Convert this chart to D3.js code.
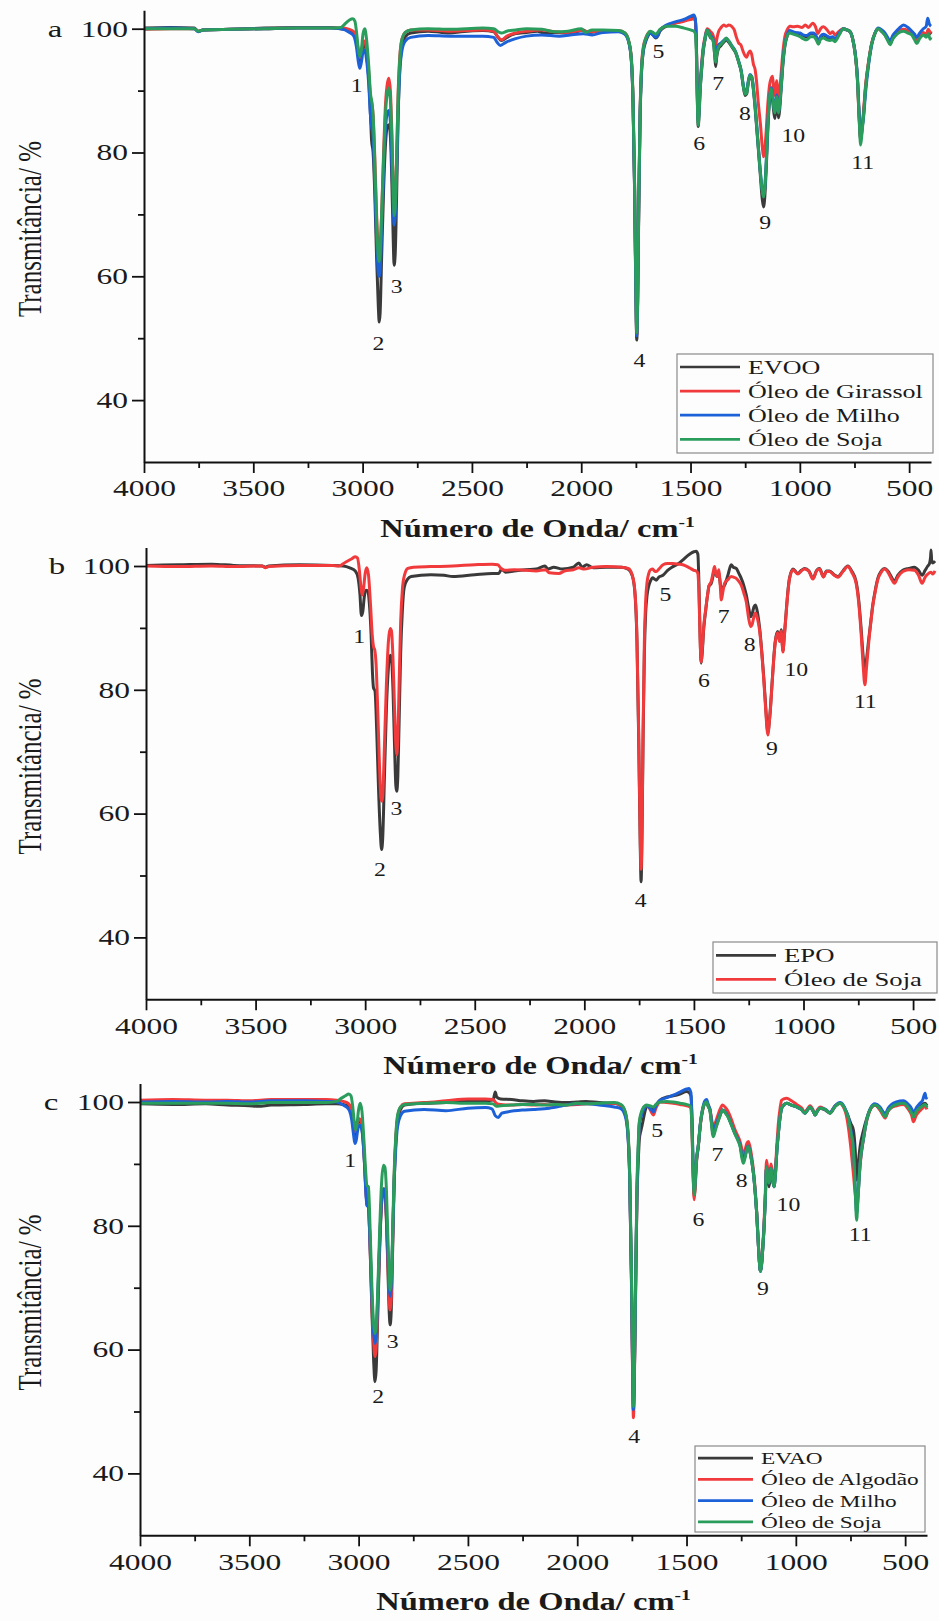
<!DOCTYPE html>
<html>
<head>
<meta charset="utf-8">
<script src="https://cdn.jsdelivr.net/npm/d3@7"></script>
<style>
  body { margin: 0; background: #fdfdfd; }
  svg { display: block; font-family: "Liberation Serif", "Times New Roman", serif; }
</style>
</head>
<body>
<svg id="chart" width="939" height="1621"></svg>
<script>
// ---- tick values ----
const xTicks = [4000, 3500, 3000, 2500, 2000, 1500, 1000, 500];
const xMinor = [3750, 3250, 2750, 2250, 1750, 1250, 750];
const yTicks = [40, 60, 80, 100];
const yMinor = [50, 70, 90];
const peakNames = ["1", "2", "3", "4", "5", "6", "7", "8", "9", "10", "11"];

// ---- panel a: [wavenumber, transmittance] ----
const evooA = [[4000,100.1],[3880,100.2],[3770,100.1],[3752,99.6],[3730,99.8],[3600,99.9],[3450,100.1],[3300,100.2],[3150,100.2],[3100,100],[3060,99.7],[3040,99.2],[3028,97.8],[3020,95.8],[3013,94.5],[3006,95.6],[2998,97.2],[2990,97.4],[2982,95.8],[2972,92],[2964,86],[2959,82],[2952,80],[2944,73],[2936,63],[2928,55],[2924,52.6],[2920,54],[2913,63],[2904,74],[2895,81.5],[2886,84.3],[2879,84.5],[2872,82],[2866,75],[2860,66],[2856,61.8],[2851,63.5],[2845,72],[2838,85],[2830,93.5],[2820,97],[2805,98.7],[2780,99.3],[2700,99.6],[2640,99.4],[2600,99.3],[2550,99.5],[2450,99.7],[2400,99.5],[2380,98.6],[2365,98.1],[2340,98.6],[2300,99.2],[2250,99.4],[2200,99.6],[2170,99.3],[2120,99.4],[2060,99.3],[2020,99.5],[1990,99.8],[1970,99.3],[1930,99.6],[1880,99.7],[1830,99.6],[1800,99.2],[1785,98.2],[1772,95.5],[1763,88],[1756,74],[1750,57],[1746,49.7],[1742,55],[1737,70],[1731,85],[1724,93],[1716,96.3],[1706,97.8],[1695,98.8],[1685,99.3],[1672,99],[1660,98.5],[1650,98.8],[1640,99.6],[1610,100.4],[1570,100.9],[1530,101.3],[1500,101.8],[1485,102],[1478,101.4],[1473,97],[1469,89],[1465,84.2],[1461,86],[1456,90],[1450,93],[1442,96.3],[1432,98.5],[1424,99.7],[1416,99.2],[1408,98.5],[1400,98.4],[1394,97.5],[1389,95.5],[1385,93.9],[1380,95.5],[1372,96.8],[1360,97.3],[1348,97.8],[1337,98.2],[1325,97.8],[1310,97],[1295,96.2],[1280,94.6],[1268,93],[1258,90.5],[1250,89.2],[1243,89.5],[1236,91.2],[1228,92.3],[1220,92],[1212,90],[1203,86.5],[1193,82],[1182,77],[1172,72.5],[1166,71.2],[1160,73],[1153,78],[1146,84],[1138,88.5],[1131,89.8],[1125,88.5],[1119,86.5],[1114,85.5],[1109,87.5],[1105,88.5],[1101,86.8],[1097,85.6],[1092,87],[1085,90.5],[1078,94],[1068,97.3],[1058,98.8],[1045,99.6],[1037,99.5],[1020,99.3],[999,99.2],[985,98.9],[969,98.7],[950,99.2],[938,99.2],[925,98.6],[915,97.6],[905,98.6],[892,99],[875,98.6],[862,98.4],[850,98.5],[839,98.2],[820,99.2],[801,100],[785,99.8],[770,99.5],[758,98.3],[747,96],[737,92.2],[728,85.5],[722,82],[716,83.5],[709,86],[699,90.6],[686,94.4],[671,97.6],[656,99.3],[641,100],[625,99.6],[610,99],[597,98.2],[587,97.6],[575,98.5],[564,99],[545,99.6],[526,99.8],[505,99.6],[488,99.5],[475,98.8],[465,98.2],[452,98.9],[435,99.3],[422,99],[412,99.8],[404,99.2],[400,99.5]];
const girassolA = [[4000,99.9],[3880,100],[3770,100],[3752,99.6],[3730,99.8],[3600,99.9],[3450,100],[3300,100.1],[3150,100.1],[3100,100.1],[3060,99.9],[3040,99.5],[3028,98.5],[3020,96.5],[3013,95.3],[3006,96],[2998,97.8],[2990,98],[2982,96.6],[2972,93],[2964,89],[2958,88],[2952,86],[2944,79],[2936,70],[2928,64.5],[2924,64],[2920,64.8],[2913,70],[2904,80],[2895,88],[2886,91.3],[2880,92],[2873,90],[2866,83],[2860,75],[2856,71],[2851,72],[2845,78],[2838,89],[2830,95.5],[2820,98.3],[2805,99.4],[2780,99.8],[2700,99.8],[2600,99.6],[2450,99.8],[2400,99.6],[2380,98.6],[2365,98.2],[2340,98.8],[2300,99.3],[2250,99.6],[2180,99.8],[2120,99.5],[2060,99.4],[2000,99.7],[1960,99.5],[1900,99.7],[1830,99.7],[1800,99.3],[1785,98.3],[1772,95.8],[1763,88.5],[1756,75],[1750,58],[1746,50.5],[1742,56],[1737,71],[1731,86],[1724,94],[1716,97],[1706,98.4],[1695,99.2],[1685,99.5],[1672,99.2],[1660,98.9],[1650,99.2],[1640,99.8],[1610,100.5],[1570,100.9],[1530,101.2],[1500,101.5],[1485,101.6],[1478,101.2],[1473,97],[1469,90],[1465,85.5],[1461,87.5],[1456,91],[1450,94],[1442,97],[1432,99],[1424,100],[1416,99.8],[1408,99.5],[1400,99.2],[1394,98.6],[1389,97.8],[1385,97.3],[1380,98.3],[1372,99.5],[1360,100.2],[1348,100.6],[1337,100.4],[1325,100.6],[1310,100.3],[1300,99.8],[1290,98.6],[1280,97.7],[1270,97.4],[1260,96.4],[1250,95.6],[1243,95.4],[1236,96],[1228,96.4],[1220,95.8],[1212,94.2],[1205,93.5],[1198,91.5],[1190,88],[1180,84.5],[1172,81],[1166,79.3],[1160,80.5],[1153,84],[1146,88],[1138,91],[1131,92],[1125,92.3],[1119,90],[1114,89.2],[1109,91],[1105,91.6],[1101,89.5],[1097,88.3],[1092,90],[1085,93],[1078,96],[1068,98.8],[1058,99.8],[1045,100.4],[1030,100.3],[1010,100.4],[990,100.2],[975,100.6],[960,100.2],[941,100.9],[928,100.3],[918,99.2],[905,100],[892,100.3],[875,99.8],[862,99.2],[850,99.5],[839,99],[820,99.6],[801,100],[785,99.8],[770,99.5],[758,98.3],[747,96],[737,92],[728,85],[722,82.3],[716,84],[709,86.5],[699,91],[686,94.6],[671,97.7],[656,99.3],[641,100],[625,99.6],[610,99],[597,98.2],[587,97.6],[575,98.5],[564,99],[545,99.6],[526,99.9],[505,99.7],[488,99.4],[475,98.6],[465,98.1],[452,98.8],[435,99.4],[422,99],[412,99.9],[404,99.4],[400,99.6]];
const milhoA = [[4000,100],[3880,100.1],[3770,100],[3752,99.5],[3730,99.8],[3600,99.9],[3450,100],[3300,100.1],[3150,100.1],[3100,100],[3060,99.4],[3040,98.8],[3028,97],[3020,94.8],[3013,93.6],[3006,94.5],[2998,96.2],[2990,96.5],[2982,95],[2972,91],[2964,86],[2958,84],[2952,82.5],[2944,75],[2936,66],[2928,60.5],[2924,60],[2920,60.8],[2913,67],[2904,77],[2895,84],[2886,86.5],[2880,86.8],[2873,85],[2866,78],[2860,71],[2856,68.3],[2851,69.5],[2845,76],[2838,86],[2830,93],[2820,96.5],[2805,98],[2780,98.6],[2700,98.9],[2600,98.8],[2450,98.8],[2400,98.6],[2385,97.8],[2370,97.3],[2345,97.8],[2300,98.4],[2250,98.8],[2180,99],[2100,98.8],[2050,99],[1990,99.2],[1950,99],[1900,99.4],[1830,99.5],[1800,99.1],[1785,98.1],[1772,95.4],[1763,88],[1756,74.5],[1750,57.5],[1746,50.4],[1742,56],[1737,71],[1731,85.5],[1724,93.2],[1716,96.5],[1706,98],[1695,98.9],[1685,99.3],[1672,99],[1660,98.6],[1650,98.9],[1640,99.7],[1610,100.6],[1570,101.1],[1530,101.5],[1500,102],[1485,102.2],[1478,101.6],[1473,97],[1469,89.5],[1465,85],[1461,86.8],[1456,90.5],[1450,93.5],[1442,96.6],[1432,98.7],[1424,99.8],[1416,99.4],[1408,98.8],[1400,98.6],[1394,97.8],[1389,96.8],[1385,96.4],[1380,96.8],[1372,97.4],[1360,97.7],[1348,98.1],[1337,98.4],[1325,98],[1310,97.2],[1295,96.4],[1280,94.8],[1268,93.2],[1258,90.8],[1250,89.8],[1243,90],[1236,91.5],[1228,92.6],[1220,92.3],[1212,90.4],[1203,87],[1193,82.5],[1182,77.5],[1172,74],[1166,73],[1160,74.5],[1153,79],[1146,85],[1138,89],[1131,90.5],[1125,89.5],[1119,87.5],[1114,86.5],[1109,88.3],[1105,89.3],[1101,87.5],[1097,86.5],[1092,88],[1085,91],[1078,94.5],[1068,97.6],[1058,99],[1045,99.7],[1037,99.6],[1020,99.4],[999,99.3],[985,99],[969,98.9],[950,99.3],[938,99.3],[925,98.8],[915,97.9],[905,98.8],[892,99.1],[875,98.8],[862,98.6],[850,98.7],[839,98.4],[820,99.3],[801,100],[785,99.8],[770,99.5],[758,98.3],[747,96.2],[737,92.6],[728,86],[722,82.5],[716,84],[709,85.5],[699,89.8],[686,94],[671,97.4],[656,99.3],[641,100.1],[625,99.8],[610,99.3],[597,98.5],[587,98],[575,98.9],[564,99.4],[545,100.1],[526,100.6],[505,100.2],[488,99.6],[475,99.1],[465,98.6],[452,99.3],[435,100],[422,100.4],[415,101.7],[408,100.8],[400,100.4]];
const sojaA = [[4000,100],[3880,100],[3770,100],[3752,99.6],[3730,99.8],[3600,99.9],[3450,100],[3300,100.1],[3150,100.1],[3100,100.2],[3080,100.8],[3060,101.4],[3045,101.6],[3035,101.2],[3028,99.5],[3020,96.8],[3013,95.5],[3006,96.5],[2998,99.2],[2990,100],[2982,98.3],[2972,94],[2964,89.5],[2958,88.2],[2952,86],[2944,78],[2936,69],[2928,63],[2924,62.4],[2920,63.5],[2913,70],[2904,79],[2895,86.5],[2886,89.8],[2880,90.4],[2873,88.5],[2866,82],[2860,74],[2856,69.8],[2851,71],[2845,78],[2838,88.5],[2830,95],[2820,98.3],[2805,99.4],[2780,99.8],[2700,100],[2600,99.9],[2450,100.1],[2400,100],[2380,99.5],[2365,99.3],[2340,99.6],[2300,99.8],[2250,100],[2180,99.9],[2120,99.5],[2060,99.6],[2000,100],[1980,99.4],[1950,99.8],[1900,99.8],[1830,99.7],[1800,99.3],[1785,98.3],[1772,95.7],[1763,88.5],[1756,75],[1750,58.5],[1746,50.9],[1742,56.5],[1737,71.5],[1731,86],[1724,93.6],[1716,96.8],[1706,98.3],[1695,99.2],[1685,99.6],[1672,99.4],[1660,99.1],[1650,99.4],[1640,99.9],[1610,100.4],[1570,100.4],[1530,100.1],[1500,99.8],[1485,99.6],[1478,99.2],[1473,95.5],[1469,88.5],[1465,84.4],[1461,86.2],[1456,90],[1450,93.2],[1442,96.5],[1432,98.6],[1424,99.8],[1416,99.3],[1408,98.6],[1400,98.4],[1394,97.4],[1389,95.6],[1385,94.6],[1380,95.8],[1372,97],[1360,97.5],[1348,98],[1337,98.5],[1325,98],[1310,97.1],[1295,96.3],[1280,94.7],[1268,93.1],[1258,90.6],[1250,89.4],[1243,89.6],[1236,91.3],[1228,92.5],[1220,92.2],[1212,90.2],[1203,86.8],[1193,82.3],[1182,77.3],[1172,73.8],[1166,72.8],[1160,74.2],[1153,78.8],[1146,84.8],[1138,89],[1131,90.3],[1125,89.2],[1119,87.2],[1114,86.4],[1109,88],[1105,89],[1101,87.4],[1097,86.4],[1092,87.8],[1085,90.8],[1078,94.3],[1068,97.5],[1058,98.8],[1045,99.3],[1037,99.2],[1020,99],[999,98.7],[985,98.4],[969,98.2],[950,98.7],[938,98.7],[925,98.2],[915,97.5],[905,98.3],[892,98.5],[875,98.2],[862,98.1],[850,98.2],[839,97.9],[820,99],[801,100],[785,99.8],[770,99.5],[758,98.3],[747,96],[737,92],[728,85],[722,81.2],[716,83],[709,85.8],[699,90.5],[686,94.4],[671,97.6],[656,99.3],[641,100],[625,99.5],[610,98.9],[597,98],[587,97.4],[575,98.3],[564,98.8],[545,99.4],[526,99.6],[505,99.3],[488,99],[475,98.2],[465,97.6],[452,98.4],[435,99],[422,98.6],[412,99.2],[404,98.3],[400,98.6]];
const peaksA = [[3027,90.9],[2928,49.2],[2844,58.4],[1734,46.5],[1647,96.3],[1460,81.4],[1373,91.2],[1251,86.4],[1159,68.7],[1030,82.8],[712,78.4]];

// ---- panel b ----
const epoB = [[4000,100.1],[3850,100.2],[3700,100.3],[3600,100.1],[3470,100],[3455,99.8],[3440,100],[3300,100.2],[3150,100.1],[3100,100],[3070,99.7],[3045,99.2],[3032,98],[3024,95.5],[3017,92],[3011,92.6],[3004,95],[2996,96.1],[2989,96],[2981,94],[2973,89],[2967,83],[2962,80.3],[2955,79.8],[2947,73],[2939,64],[2931,57],[2925,54.2],[2920,56],[2912,66],[2903,77],[2894,83.5],[2886,85.6],[2880,85.2],[2873,80],[2866,71],[2860,64.5],[2856,63.6],[2851,66],[2845,75],[2838,86],[2830,93],[2822,96.5],[2808,97.8],[2790,98.3],[2700,98.6],[2640,98.5],[2600,98.3],[2500,98.6],[2420,98.8],[2390,98.8],[2378,99.5],[2360,99],[2320,99.2],[2268,99.4],[2220,99.5],[2180,100],[2165,99.5],[2140,99.8],[2100,99.5],[2050,99.8],[2025,100.5],[2010,99.8],[1990,100.2],[1960,99.7],[1900,99.8],[1830,99.8],[1800,99.5],[1782,98.5],[1770,96],[1760,88],[1752,72],[1745,55],[1741,49],[1737,56],[1732,72],[1726,86],[1720,92.5],[1714,95.2],[1706,96.8],[1698,97.6],[1688,98.1],[1680,97.9],[1672,97.7],[1660,98.2],[1641,98.5],[1620,99.3],[1596,99.9],[1570,100.4],[1550,101],[1520,101.9],[1500,102.3],[1490,102.4],[1482,101.9],[1477,97],[1472,89],[1467,84.3],[1462,86],[1455,90],[1447,92.6],[1437,95.5],[1431,96.8],[1421,97.2],[1412,98.5],[1406,99.4],[1400,98.8],[1395,98.3],[1386,98.8],[1381,97.5],[1375,96.1],[1368,96.5],[1360,96.9],[1345,98.5],[1330,100.2],[1320,99.8],[1307,99.6],[1295,98.8],[1284,98],[1272,96.8],[1261,95.3],[1250,93.2],[1241,91.8],[1234,92.3],[1226,93.4],[1219,93.7],[1210,92.5],[1200,89.9],[1190,86],[1181,81.9],[1172,77],[1166,74],[1162,73],[1157,74.5],[1150,77.5],[1144,80.8],[1136,85],[1129,87.8],[1118,89.4],[1109,88],[1102,89.7],[1097,87.5],[1094,86.3],[1087,89],[1079,92.6],[1071,96],[1064,98],[1048,99.5],[1026,98.8],[1010,99.3],[995,99.6],[975,99.2],[957,98],[940,99.3],[927,99.6],[909,98.3],[895,99.2],[881,99.2],[860,98.6],[843,98.3],[820,99.2],[798,100],[780,99.2],[760,97.5],[748,94.5],[737,89.9],[728,85.5],[720,82.9],[712,85],[702,88.3],[693,91],[684,93.7],[672,96.2],[661,98],[645,99.2],[630,99.6],[615,99.2],[600,98.3],[585,97.5],[570,98.5],[547,99.3],[520,99.6],[494,99.8],[475,99.3],[459,98.5],[445,99.3],[433,100],[425,100.4],[420,101.5],[418,102.6],[415,100.8],[410,100.5],[400,100.8]];
const sojaB = [[4000,100],[3850,99.9],[3700,100],[3600,99.9],[3470,100],[3455,99.7],[3440,99.9],[3300,100.1],[3150,100.1],[3120,100],[3090,100.6],[3060,101.2],[3045,101.5],[3035,101.3],[3027,99.5],[3020,96.8],[3014,95.3],[3008,96.2],[3000,98.8],[2993,99.7],[2985,98.6],[2976,94],[2968,89],[2962,87],[2956,86.4],[2950,84],[2942,76],[2934,67],[2928,62.5],[2924,62],[2920,62.8],[2912,71],[2903,81],[2894,87.8],[2886,89.9],[2880,89.5],[2873,85],[2866,77],[2860,71],[2856,69.5],[2851,72],[2845,81],[2838,91],[2830,96.3],[2820,98.6],[2805,99.6],[2780,99.8],[2700,99.9],[2600,100],[2500,100.2],[2420,100.3],[2395,100.2],[2380,99.6],[2360,99.3],[2320,99.4],[2268,99.3],[2220,99.2],[2177,99.4],[2160,98.9],[2116,98.8],[2090,99.2],[2050,99.4],[2025,99.7],[2000,99.5],[1960,99.8],[1900,99.9],[1830,99.8],[1800,99.6],[1782,98.6],[1770,96.2],[1760,88.5],[1752,73],[1745,56],[1741,51],[1737,57],[1732,73],[1726,88],[1720,94.5],[1714,97.3],[1706,98.8],[1698,99.4],[1688,99.5],[1680,99.2],[1672,99.1],[1660,99.5],[1641,100.2],[1620,100.4],[1596,100.4],[1570,100.3],[1550,100.2],[1520,99.7],[1500,99.3],[1490,99.2],[1482,98.8],[1477,95.5],[1472,88.5],[1467,84.5],[1462,86.5],[1455,90.3],[1447,92.8],[1437,95.5],[1431,96.8],[1421,97.5],[1412,99],[1406,99.9],[1400,98.8],[1395,98.3],[1386,99.4],[1381,97.5],[1375,94.5],[1368,95.8],[1360,97.2],[1345,97.8],[1330,98.3],[1320,98.2],[1307,98],[1295,97.5],[1284,96.9],[1272,95.6],[1261,94.2],[1250,91.5],[1241,90.2],[1234,90.6],[1226,91.8],[1219,92.4],[1210,91.5],[1200,89.5],[1190,85.8],[1181,81.5],[1172,76.5],[1166,73.5],[1162,72.7],[1157,74.3],[1150,77.3],[1144,80.6],[1136,84.8],[1129,87.6],[1118,89.2],[1109,87.8],[1102,89.5],[1097,87.3],[1094,86.1],[1087,88.8],[1079,92.4],[1071,95.8],[1064,97.9],[1048,99.4],[1026,98.7],[1010,99.2],[995,99.5],[975,99.1],[957,97.9],[940,99.2],[927,99.5],[909,98.2],[895,99.1],[881,99.1],[860,98.5],[843,98.2],[820,99.1],[798,99.9],[780,99],[760,97.2],[748,94],[737,89],[728,84],[720,80.8],[712,83.8],[702,87.8],[693,90.8],[684,93.5],[672,96],[661,97.8],[645,99],[630,99.5],[615,99],[600,98],[585,97.2],[570,98.2],[547,99.1],[520,99.4],[494,99.3],[475,98.5],[459,97.2],[445,98.2],[433,98.7],[418,99],[410,98.7],[400,99.2]];
const peaksB = [[3027,88.7],[2933,51.0],[2857,60.8],[1743,46.0],[1630,95.5],[1454,81.6],[1364,91.9],[1246,87.4],[1144,70.5],[1033,83.3],[718,78.2]];

// ---- panel c ----
const evaoC = [[4000,99.7],[3850,99.6],[3700,99.7],[3600,99.5],[3500,99.4],[3460,99.3],[3400,99.5],[3250,99.6],[3150,99.7],[3100,99.7],[3070,99.6],[3045,99.2],[3032,98],[3024,96],[3017,94.5],[3011,95.2],[3004,96.6],[2996,97.1],[2989,96.6],[2981,94.5],[2973,90],[2967,86],[2962,83.5],[2955,83],[2947,76],[2939,66],[2931,58],[2925,54.8],[2920,56.5],[2912,66],[2903,77],[2894,84],[2886,85.8],[2880,85.5],[2873,81],[2866,73],[2860,66],[2856,64],[2851,66],[2845,75],[2838,86],[2830,93.5],[2822,97],[2808,98.8],[2790,99.5],[2700,99.8],[2600,99.9],[2500,100.2],[2420,100.2],[2385,100.3],[2375,101.6],[2368,100.8],[2350,100.5],[2300,100.4],[2250,100.2],[2200,100.1],[2150,100.2],[2100,100],[2050,99.9],[2000,100],[1960,100.1],[1900,99.9],[1830,99.8],[1800,99.4],[1782,98.4],[1770,95.8],[1760,88],[1752,72],[1746,55],[1743,50.2],[1739,55],[1733,70],[1727,84],[1720,91],[1716,93.9],[1708,95.5],[1701,96.6],[1690,98.5],[1682,99.3],[1670,99.3],[1660,99],[1652,98.8],[1640,99.5],[1621,100.3],[1590,100.8],[1561,101],[1530,101.3],[1500,101.7],[1490,101.6],[1480,101],[1475,97],[1470,89],[1465,84.7],[1461,86],[1455,90],[1446,92.8],[1436,96.5],[1426,98.7],[1416,99.8],[1408,100],[1400,99.2],[1393,98.7],[1386,96.8],[1381,95.2],[1377,94.7],[1370,95.5],[1359,96.6],[1347,97.8],[1335,98.7],[1322,98.3],[1309,97.6],[1295,96.4],[1278,94.9],[1265,94],[1255,93.1],[1247,91.6],[1240,90.4],[1232,91.3],[1224,92.5],[1217,92.8],[1207,91.5],[1194,88.5],[1185,85],[1179,82],[1170,76],[1164,73],[1161,72.6],[1156,74],[1150,77],[1146,79.3],[1140,84],[1134,89.5],[1128,88],[1123,86.3],[1118,87.5],[1114,89.2],[1108,88],[1100,86.3],[1094,88],[1086,92.5],[1080,94.9],[1072,97.5],[1065,99],[1055,99.5],[1042,99.8],[1020,99.5],[996,99.2],[975,98.8],[958,98.2],[945,98.8],[935,99.2],[922,98.6],[912,97.9],[900,98.6],[889,99],[865,98.7],[844,98.2],[820,99.3],[798,99.8],[780,99.2],[770,98.5],[760,97.6],[748,96.5],[737,95.5],[728,92],[722,87.4],[716,89.5],[706,92.8],[690,95.5],[676,97.3],[660,98.8],[638,99.5],[615,98.8],[600,98],[592,97.6],[578,98.6],[562,99.2],[540,99.5],[508,99.8],[485,99.2],[470,98.4],[462,97.8],[450,98.5],[432,99.2],[420,99.6],[409,99.8],[400,99.4]];
const algodaoC = [[4000,100.3],[3850,100.4],[3700,100.3],[3600,100.3],[3500,100.2],[3400,100.4],[3250,100.4],[3150,100.4],[3100,100.3],[3070,100.1],[3045,99.7],[3032,98.6],[3024,96.5],[3017,95.2],[3011,95.8],[3004,96.8],[2996,97.3],[2989,97],[2981,95],[2973,90.5],[2967,86],[2962,83.8],[2955,83.3],[2947,76],[2939,67],[2931,61],[2925,58.9],[2920,60],[2912,68],[2903,78],[2894,84.5],[2886,86],[2880,85.8],[2873,81.5],[2866,74],[2860,68],[2856,66.4],[2851,68],[2845,76.5],[2838,87],[2830,94],[2822,97.5],[2808,99.2],[2790,99.7],[2700,99.9],[2600,100.2],[2500,100.5],[2420,100.5],[2385,100.4],[2370,99.8],[2350,99.6],[2300,99.5],[2250,99.6],[2200,99.5],[2150,99.6],[2100,99.4],[2050,99.5],[2000,99.6],[1960,99.7],[1900,99.7],[1830,99.8],[1800,99.5],[1782,98.5],[1770,96],[1760,88],[1752,71],[1746,54],[1743,49],[1739,54],[1733,69],[1727,84.5],[1720,93],[1716,96.5],[1708,97.9],[1701,98.7],[1690,99.3],[1682,99.4],[1670,99],[1660,98.3],[1652,97.9],[1640,99],[1621,100],[1590,99.9],[1561,99.8],[1530,99.6],[1500,99.4],[1490,99.3],[1480,99],[1475,95.5],[1470,88.5],[1465,84.2],[1461,86],[1455,90.2],[1446,93],[1436,96.6],[1426,98.8],[1416,99.8],[1408,100],[1400,99.4],[1393,98.8],[1386,97.4],[1381,96.3],[1377,96],[1370,96.5],[1359,97.6],[1347,98.8],[1335,99.5],[1322,99.1],[1309,98.4],[1295,97.2],[1278,95.5],[1265,94.5],[1255,93.6],[1247,92.4],[1240,91.4],[1232,92.3],[1224,93.3],[1217,93.6],[1207,92.3],[1194,89],[1185,85.5],[1179,82.3],[1170,76.2],[1164,73.2],[1161,72.8],[1156,74.2],[1150,77.5],[1146,80],[1140,85],[1134,90.6],[1128,89],[1123,87.2],[1118,88.5],[1114,90],[1108,89],[1100,87.4],[1094,89],[1086,93.5],[1080,96.5],[1072,99],[1065,100.3],[1055,100.5],[1042,100.6],[1020,100.2],[996,99.6],[975,99.1],[958,98.4],[945,99],[935,99.4],[922,98.8],[912,98],[900,98.8],[889,99.2],[865,98.8],[844,98.3],[820,99.4],[798,99.8],[780,99],[770,98],[760,96],[748,92.5],[737,88.5],[728,85],[722,83.1],[716,85],[706,89.8],[690,94.2],[676,96.9],[660,98.7],[638,99.5],[615,98.7],[600,97.8],[592,97.4],[578,98.5],[562,99.1],[540,99.4],[508,99.6],[485,98.8],[470,97.8],[462,96.8],[450,97.8],[432,98.6],[420,99],[409,99.3],[400,98.8]];
const milhoC = [[4000,100],[3850,100.1],[3700,100],[3600,100.1],[3500,100],[3400,100.2],[3250,100.2],[3150,100.1],[3100,100],[3070,99.5],[3045,98.8],[3032,97.2],[3024,95],[3017,93.3],[3011,93.8],[3004,95.5],[2996,96.3],[2989,96],[2981,94.3],[2973,90],[2967,85.5],[2962,83.3],[2955,83],[2947,76.5],[2939,68],[2931,62.5],[2925,61],[2920,62],[2912,69],[2903,78],[2894,84.5],[2886,86],[2880,85.8],[2873,82],[2866,75.5],[2860,70],[2856,68.6],[2851,70],[2845,77],[2838,86.5],[2830,92.5],[2822,96],[2808,97.8],[2790,98.5],[2700,98.8],[2600,98.6],[2500,99],[2420,99.1],[2390,98.9],[2375,97.8],[2361,97.5],[2345,98.2],[2320,98.4],[2250,98.7],[2200,98.8],[2128,99],[2080,99.3],[2040,99.6],[2000,99.7],[1950,99.7],[1900,99.5],[1830,99.2],[1800,98.9],[1782,97.9],[1770,95.4],[1760,87.5],[1752,71.5],[1746,55],[1743,50.3],[1739,55],[1733,70],[1727,85],[1720,93],[1716,96.2],[1708,97.6],[1701,98.4],[1690,99.2],[1682,99.4],[1670,99.1],[1660,98.7],[1652,98.4],[1640,99.4],[1621,100.3],[1590,100.7],[1561,101.1],[1530,101.6],[1500,102.1],[1490,102.2],[1480,101.5],[1475,97.5],[1470,90],[1465,85.5],[1461,87],[1455,90.5],[1446,93],[1436,96.8],[1426,99],[1416,100.2],[1408,100.4],[1400,99.5],[1393,98.9],[1386,97],[1381,95.8],[1377,95.5],[1370,96],[1359,96.9],[1347,98],[1335,98.7],[1322,98.3],[1309,97.6],[1295,96.4],[1278,94.9],[1265,94],[1255,93],[1247,91.5],[1240,90.6],[1232,91.4],[1224,92.6],[1217,92.9],[1207,91.6],[1194,88.5],[1185,85],[1179,82],[1170,76],[1164,73],[1161,72.6],[1156,74],[1150,77],[1146,79.3],[1140,84],[1134,89.5],[1128,88.2],[1123,86.9],[1118,87.8],[1114,89.3],[1108,88],[1100,86.3],[1094,88],[1086,92.5],[1080,94.9],[1072,97.6],[1065,99],[1055,99.5],[1042,99.8],[1020,99.5],[996,99.2],[975,98.8],[958,98.2],[945,98.8],[935,99.2],[922,98.6],[912,97.9],[900,98.6],[889,99],[865,98.8],[844,98.3],[820,99.4],[798,99.9],[780,99.3],[770,98.5],[760,97.6],[748,95.4],[737,92.8],[728,86],[722,82],[716,84.5],[706,90.1],[690,94.2],[676,97.1],[660,98.9],[638,99.7],[615,99.2],[600,98.4],[592,98],[578,99],[562,99.6],[540,100],[508,100.2],[485,99.6],[470,98.9],[462,98.2],[450,99],[432,99.8],[420,100.3],[409,101.4],[404,100.6],[400,100.8]];
const sojaC = [[4000,99.8],[3850,99.8],[3700,99.8],[3600,99.8],[3500,99.7],[3400,99.9],[3250,99.9],[3150,99.9],[3100,100.1],[3080,100.6],[3060,101],[3045,101.3],[3035,101],[3027,99.3],[3020,96.8],[3014,95.5],[3008,96.3],[3000,98.8],[2993,99.8],[2985,98.6],[2976,94],[2968,89],[2962,86.5],[2955,86.3],[2947,79],[2939,70],[2931,64],[2925,62.6],[2920,63.5],[2912,70],[2903,80],[2894,87.5],[2886,89.8],[2880,89.5],[2873,86],[2866,78],[2860,72],[2856,69.6],[2851,71],[2845,78],[2838,88],[2830,94.5],[2822,97.8],[2808,99.2],[2790,99.6],[2700,99.8],[2600,99.9],[2500,99.8],[2420,99.8],[2385,99.7],[2370,99.3],[2350,99.4],[2300,99.5],[2250,99.6],[2200,99.6],[2150,99.5],[2100,99.6],[2050,99.5],[2000,99.8],[1960,99.7],[1900,99.8],[1830,99.9],[1800,99.6],[1782,98.6],[1770,96.2],[1760,88.5],[1752,73],[1746,57],[1743,50.8],[1739,56],[1733,71],[1727,86],[1720,94],[1716,96.8],[1708,98.2],[1701,98.9],[1690,99.4],[1682,99.5],[1670,99.4],[1660,99.3],[1652,99.2],[1640,99.6],[1621,100],[1590,100.1],[1561,100],[1530,99.8],[1500,99.6],[1490,99.5],[1480,99.2],[1475,95.5],[1470,89],[1465,85],[1461,86.5],[1455,90.5],[1446,93],[1436,96.7],[1426,98.9],[1416,99.8],[1408,100],[1400,99.2],[1393,98.6],[1386,96.5],[1381,94.8],[1377,94.4],[1370,95.2],[1359,96.5],[1347,97.8],[1335,98.7],[1322,98.2],[1309,97.5],[1295,96.3],[1278,94.8],[1265,93.8],[1255,92.8],[1247,91],[1240,90.1],[1232,91],[1224,92.3],[1217,92.8],[1207,91.4],[1194,88.5],[1185,85],[1179,82],[1170,76],[1164,73],[1161,72.6],[1156,74],[1150,77],[1146,79.3],[1140,84],[1134,89.5],[1128,88.2],[1123,86.9],[1118,87.8],[1114,89.3],[1108,88],[1100,86.3],[1094,88],[1086,92.5],[1080,94.9],[1072,97.6],[1065,99],[1055,99.5],[1042,99.8],[1020,99.5],[996,99.2],[975,98.8],[958,98.2],[945,98.8],[935,99.2],[922,98.6],[912,97.9],[900,98.6],[889,99],[865,98.8],[844,98.2],[820,99.3],[798,99.8],[780,99.2],[770,98.4],[760,97.4],[748,95],[737,92.5],[728,85.5],[722,80.9],[716,84],[706,90.1],[690,94.2],[676,97.1],[660,98.8],[638,99.5],[615,98.9],[600,98],[592,97.6],[578,98.6],[562,99.2],[540,99.6],[508,99.8],[485,99.1],[470,98.2],[462,97.6],[450,98.4],[432,99.1],[420,99.4],[409,99.6],[400,99.1]];
const peaksC = [[3039,90.6],[2910,52.5],[2844,61.4],[1740,46.0],[1634,95.4],[1446,81.1],[1359,91.5],[1248,87.4],[1151,69.9],[1034,83.5],[706,78.6]];

const colors = { black: "#3a3a3a", red: "#f03a3c", blue: "#1d61d8", green: "#2a9d5c" };
const SX = 1.37;        // the figure is stretched horizontally
const UNIT = 6.19;      // px per % transmittance

const panels = [
  { letter: "a", x0: 144, x1: 931, y100: 28.7, peaks: peaksA,
    series: [["EVOO", evooA, "black"], ["Óleo de Girassol", girassolA, "red"], ["Óleo de Milho", milhoA, "blue"], ["Óleo de Soja", sojaA, "green"]],
    legend: { x: 677, y: 354, w: 256, h: 99, first: 13, row: 24.1, line: 60, fs: 19 } },
  { letter: "b", x0: 146, x1: 935, y100: 566, peaks: peaksB,
    series: [["EPO", epoB, "black"], ["Óleo de Soja", sojaB, "red"]],
    legend: { x: 713, y: 942, w: 224, h: 51, first: 13.4, row: 24, line: 60, fs: 19.5 } },
  { letter: "c", x0: 140, x1: 927, y100: 1102, peaks: peaksC,
    series: [["EVAO", evaoC, "black"], ["Óleo de Algodão", algodaoC, "red"], ["Óleo de Milho", milhoC, "blue"], ["Óleo de Soja", sojaC, "green"]],
    legend: { x: 695, y: 1446, w: 230, h: 86, first: 12.2, row: 21.2, line: 55, fs: 17 } }
];

const svg = d3.select("#chart");
svg.append("rect").attr("width", 939).attr("height", 1621).attr("fill", "#fdfdfd");

function drawPanel(p) {
  const yBottom = p.y100 + 70 * UNIT;
  const yTop = p.y100 - 3 * UNIT;
  const x = d3.scaleLinear().domain([4000, 400]).range([p.x0, p.x1]);
  const y = d3.scaleLinear().domain([30, 103]).range([yBottom, yTop]);
  const g = svg.append("g");

  // spectra
  const line = d3.line().x(d => x(d[0])).y(d => y(d[1])).curve(d3.curveMonotoneX);
  g.selectAll("path.spec").data(p.series).enter().append("path")
    .attr("class", "spec")
    .attr("d", d => line(d[1]))
    .attr("fill", "none")
    .attr("stroke", d => colors[d[2]])
    .attr("stroke-width", 3)
    .attr("stroke-linejoin", "round");

  // axes
  const xAxis = g.append("g").attr("transform", `translate(0,${yBottom})`)
    .call(d3.axisBottom(x).tickValues(xTicks).tickFormat(d3.format("d"))
      .tickSize(11).tickSizeOuter(0).tickPadding(7));
  g.append("g").attr("transform", `translate(0,${yBottom})`)
    .call(d3.axisBottom(x).tickValues(xMinor).tickSize(6).tickFormat(""))
    .select(".domain").remove();
  const yAxis = g.append("g").attr("transform", `translate(${p.x0},0)`)
    .call(d3.axisLeft(y).tickValues(yTicks).tickFormat(d3.format("d"))
      .tickSize(12).tickSizeOuter(0));
  g.append("g").attr("transform", `translate(${p.x0},0)`)
    .call(d3.axisLeft(y).tickValues(yMinor).tickSize(6).tickFormat(""))
    .select(".domain").remove();

  g.selectAll(".domain").attr("stroke", "#111").attr("stroke-width", 2);
  g.selectAll(".tick line").attr("stroke", "#111").attr("stroke-width", 1.8);
  xAxis.selectAll("text")
    .attr("font-size", 23).attr("fill", "#1a1a1a")
    .attr("font-family", "Liberation Serif, Times New Roman, serif")
    .attr("transform", `scale(${SX},1)`);
  yAxis.selectAll("text")
    .attr("font-size", 23).attr("fill", "#1a1a1a")
    .attr("font-family", "Liberation Serif, Times New Roman, serif")
    .attr("x", -16 / SX)
    .attr("transform", `scale(${SX},1)`);

  // panel letter
  g.append("text")
    .attr("transform", `translate(${p.x0 - 89},${y(100)}) scale(${SX},1)`)
    .attr("text-anchor", "middle").attr("dy", "0.35em")
    .attr("font-size", 24).attr("fill", "#1a1a1a")
    .text(p.letter);

  // axis titles
  g.append("text")
    .attr("transform", `translate(29,${(yTop + yBottom) / 2 - 7}) scale(${SX},1) rotate(-90)`)
    .attr("text-anchor", "middle").attr("dy", "0.35em")
    .attr("font-size", 25).attr("fill", "#1a1a1a")
    .text("Transmitância/ %");

  const xt = g.append("text")
    .attr("transform", `translate(${(p.x0 + p.x1) / 2},${yBottom + 75}) scale(1.3,1)`)
    .attr("text-anchor", "middle")
    .attr("font-size", 25).attr("font-weight", "bold").attr("fill", "#1a1a1a");
  xt.append("tspan").text("Número de Onda/ cm");
  xt.append("tspan").attr("dy", -10).attr("font-size", 15).text("-1");

  // peak numbers
  g.selectAll("text.peak").data(p.peaks).enter().append("text")
    .attr("class", "peak")
    .attr("transform", d => `translate(${x(d[0])},${y(d[1])}) scale(1.25,1)`)
    .attr("text-anchor", "middle").attr("dy", "0.35em")
    .attr("font-size", 19).attr("fill", "#1a1a1a")
    .text((d, i) => peakNames[i]);

  // legend
  const L = p.legend;
  const lg = g.append("g").attr("transform", `translate(${L.x},${L.y})`);
  lg.append("rect").attr("width", L.w).attr("height", L.h)
    .attr("fill", "#fdfdfd").attr("stroke", "#8a8a8a").attr("stroke-width", 1.2);
  const items = lg.selectAll("g.item").data(p.series).enter().append("g")
    .attr("class", "item")
    .attr("transform", (d, i) => `translate(3,${L.first + i * L.row})`);
  items.append("line").attr("x1", 0).attr("x2", L.line)
    .attr("stroke", d => colors[d[2]]).attr("stroke-width", 2.7);
  items.append("text")
    .attr("transform", `translate(${L.line + 8},0) scale(${SX},1)`)
    .attr("dy", "0.35em").attr("font-size", L.fs).attr("fill", "#1a1a1a")
    .text(d => d[0]);
}

panels.forEach(drawPanel);
</script>
</body>
</html>
